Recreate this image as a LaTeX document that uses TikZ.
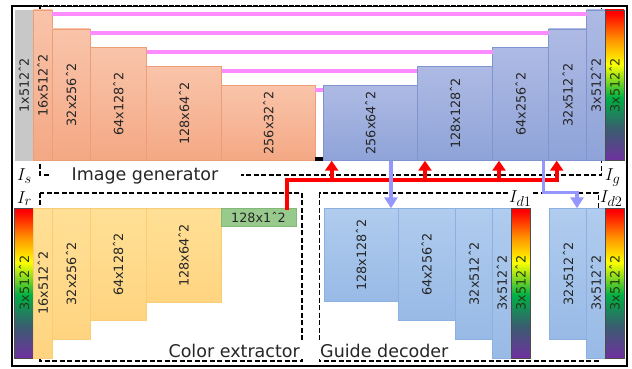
\documentclass[tikz,border=0pt]{standalone}
\usepackage{fontspec}
\setmainfont{DejaVu Sans}
\usetikzlibrary{fit,arrows.meta}
\definecolor{orT}{RGB}{249,196,170}
\definecolor{orB}{RGB}{244,168,132}
\definecolor{orE}{RGB}{238,158,118}
\definecolor{buT}{RGB}{174,186,228}
\definecolor{buB}{RGB}{142,163,216}
\definecolor{buE}{RGB}{128,148,208}
\definecolor{lbT}{RGB}{176,204,238}
\definecolor{lbB}{RGB}{152,186,230}
\definecolor{lbE}{RGB}{140,176,224}
\definecolor{yeT}{RGB}{255,224,150}
\definecolor{yeB}{RGB}{255,212,128}
\definecolor{yeE}{RGB}{250,204,118}
\definecolor{grn}{RGB}{152,202,142}
\definecolor{grnE}{RGB}{130,185,120}
\definecolor{gry}{RGB}{200,200,200}
\definecolor{pnk}{RGB}{255,140,255}
\definecolor{lav}{RGB}{150,150,255}
\definecolor{cbtext}{RGB}{35,60,15}
\definecolor{cbP}{RGB}{112,48,160}
\definecolor{cbT}{RGB}{55,95,110}
\definecolor{cbG}{RGB}{0,176,70}
\definecolor{cbY}{RGB}{255,255,0}
\definecolor{cbO}{RGB}{255,150,0}
\definecolor{cbR}{RGB}{255,0,0}
\pgfdeclareverticalshading{rainbowbar}{100bp}{color(0bp)=(cbP); color(25bp)=(cbP); color(36bp)=(cbT); color(46bp)=(cbG); color(57bp)=(cbY); color(65bp)=(cbO); color(74bp)=(cbR); color(100bp)=(cbR)}
\newcommand\mkblk[8]{\node[#6, fit={(#2,#3) (#4,#5)}, label={[#7]center:#8}] (#1) {};}
\begin{document}
\begin{tikzpicture}[x=1pt,y=-1pt,
  blk/.style={rectangle, inner sep=0pt, outer sep=0pt, line width=0.5pt},
  gen/.style={blk, draw=orE, top color=orT, bottom color=orB},
  dec/.style={blk, draw=buE, top color=buT, bottom color=buB},
  ext/.style={blk, draw=yeE, top color=yeT, bottom color=yeB},
  gui/.style={blk, draw=lbE, top color=lbT, bottom color=lbB},
  grayblk/.style={blk, fill=gry},
  codeblk/.style={blk, draw=grnE, fill=grn},
  cbar/.style={blk, draw=black!70, line width=0.6pt, shading=rainbowbar},
  lbl/.style={font=\fontsize{12.8}{12.8}\selectfont, text=black!85, inner sep=0pt, rotate=90},
  hlbl/.style={font=\fontsize{12.8}{12.8}\selectfont, text=black!85, inner sep=0pt},
  cbl/.style={lbl, text=cbtext},
  pinkl/.style={draw=pnk, line width=4pt},
  redl/.style={draw=red, line width=4pt, line join=miter},
  lavl/.style={draw=lav, line width=3.5pt, line join=miter, -{Triangle[width=13pt,length=11pt]}},
  dsh/.style={draw=black, line width=1.6pt, dash pattern=on 5pt off 2.5pt},
  title/.style={fill=white, font=\fontsize{17.5}{17.5}\selectfont, text=black!85, inner ysep=1pt},
  mth/.style={fill=white, inner sep=1pt, font=\fontsize{19}{19}\selectfont}]
\useasboundingbox (0,0) rectangle (632,369);
% frame
\draw[line width=1.3pt] (12,6) rectangle (627,366);
% dashed module boxes
\draw[dsh] (40,6) rectangle (601.5,175);
\draw[dsh] (40,192.7) rectangle (301.7,360.7);
\draw[dsh] (319.3,192.7) rectangle (598.3,360.7);
\draw[white, line width=1pt, dash pattern=on 1pt off 5pt] (42,6) -- (600,6);
% titles and image labels
\node[title, inner xsep=23pt, anchor=base] (tig) at (145,180) {Image generator};
\node[title, inner xsep=3pt, anchor=base east] (tce) at (303,357.5) {Color extractor};
\node[title, inner xsep=3pt, anchor=base west] (tgd) at (317,357.5) {Guide decoder};
\node[mth, anchor=base west] (ls) at (16,180.5) {$I_s$};
\node[mth, anchor=base west] (lr) at (16,203) {$I_r$};
\node[mth, anchor=base west] (lg) at (604,180.5) {$I_g$};
\node[mth, anchor=base west] (ld1) at (508,202) {$I_{d1}$};
\node[mth, anchor=base west] (ld2) at (599,202) {$I_{d2}$};
% image generator
\mkblk{g0}{14.5}{10}{33.3}{160.7}{grayblk}{lbl}{1x512ˆ2}
\mkblk{e1}{33.3}{10}{52}{160.7}{gen}{lbl}{16x512ˆ2}
\mkblk{e2}{52}{29}{90}{160.7}{gen}{lbl}{32x256ˆ2}
\mkblk{e3}{90}{47.7}{146.5}{160.7}{gen}{lbl}{64x128ˆ2}
\mkblk{e4}{146.5}{66.3}{221.5}{160.7}{gen}{lbl}{128x64ˆ2}
\mkblk{e5}{221.5}{85.3}{315}{160.7}{gen}{lbl}{256x32ˆ2}
\node[blk, fill=black, fit={(315,157) (323.3,160.7)}] (bn) {};
\mkblk{d5}{323.3}{85.3}{417.3}{160.7}{dec}{lbl}{256x64ˆ2}
\mkblk{d4}{417.3}{66.3}{492.7}{160.7}{dec}{lbl}{128x128ˆ2}
\mkblk{d3}{492.7}{47.7}{548.7}{160.7}{dec}{lbl}{64x256ˆ2}
\mkblk{d2}{548.7}{29}{586.7}{160.7}{dec}{lbl}{32x512ˆ2}
\mkblk{d1}{586.7}{10}{605}{160.7}{dec}{lbl}{3x512ˆ2}
\mkblk{cg}{605}{10}{624}{160.7}{cbar}{cbl}{3x512ˆ2}
% color extractor
\mkblk{cr}{14.7}{208.3}{33.3}{358}{cbar}{cbl}{3x512ˆ2}
\mkblk{c1}{33.3}{208.3}{52.3}{358}{ext}{lbl}{16x512ˆ2}
\mkblk{c2}{52.3}{208.3}{90}{339.3}{ext}{lbl}{32x256ˆ2}
\mkblk{c3}{90}{208.3}{146}{320.7}{ext}{lbl}{64x128ˆ2}
\mkblk{c4}{146}{208.3}{221}{302.3}{ext}{lbl}{128x64ˆ2}
\mkblk{cz}{221}{208.3}{296}{226.7}{codeblk}{hlbl}{128x1ˆ2}
% guide decoders
\mkblk{u1}{324}{208.3}{398.3}{301.7}{gui}{lbl}{128x128ˆ2}
\mkblk{u2}{398.3}{208.3}{455}{320.7}{gui}{lbl}{64x256ˆ2}
\mkblk{u3}{455}{208.3}{492.7}{339.3}{gui}{lbl}{32x512ˆ2}
\mkblk{u4}{492.7}{208.3}{511}{358}{gui}{lbl}{3x512ˆ2}
\mkblk{cd1}{511}{208.3}{530}{358}{cbar}{cbl}{3x512ˆ2}
\mkblk{v1}{549.3}{208.3}{586.7}{339.3}{gui}{lbl}{32x512ˆ2}
\mkblk{v2}{586.7}{208.3}{605}{358}{gui}{lbl}{3x512ˆ2}
\mkblk{cd2}{605}{208.3}{624}{358}{cbar}{cbl}{3x512ˆ2}
% skip connections
\foreach \a/\b in {e1/d1,e2/d2,e3/d3,e4/d4,e5/d5}
  \draw[pinkl] ([yshift=-4.5pt]\a.north east) -- ([yshift=-4.5pt]\b.north west);
% colour code to generator
\coordinate (rbus) at (0,179.5);
\coordinate (lbus) at (0,192.5);
\coordinate (r0) at ([xshift=28.5pt]cz.north);
\coordinate (r1) at ([xshift=8.4pt]d5.south west);
\coordinate (r2) at ([xshift=7.7pt]d4.south west);
\coordinate (r3) at ([xshift=6.3pt]d3.south west);
\coordinate (r4) at ([xshift=8pt]d2.south west);
\draw[redl, line cap=rect] (r0) |- (r4 |- rbus);
\foreach \r in {r1,r2,r3,r4}
  \draw[redl, -{Triangle[width=13pt,length=10pt]}] (\r |- rbus) -- (\r);
% generator features to guide decoders
\coordinate (b1) at ([xshift=67.7pt]d5.south west);
\draw[lavl] (b1) -- (b1 |- u1.north);
\coordinate (b2) at ([xshift=-5.4pt]d3.south east);
\coordinate (b3) at ([xshift=9pt]v1.north);
\draw[lavl] (b2) |- (b3 |- lbus) -- (b3);
\end{tikzpicture}
\end{document}
